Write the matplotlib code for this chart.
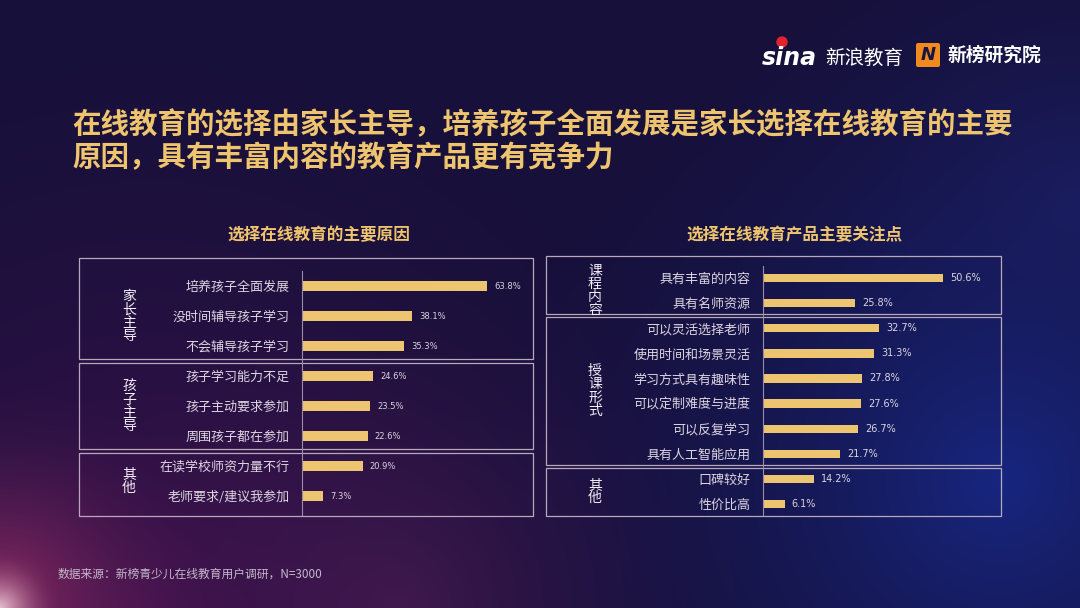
import numpy as np
import matplotlib
matplotlib.use("Agg")
import matplotlib.pyplot as plt
from matplotlib.patches import Rectangle, FancyBboxPatch, Arc
from matplotlib.transforms import blended_transform_factory

plt.rcParams['font.family'] = ['Noto Sans CJK SC', 'DejaVu Sans']

# left chart data
left_title = '选择在线教育的主要原因'
left_groups = ['家长主导', '孩子主导', '其他']
left_sizes = [3, 3, 2]
left_labels = ['培养孩子全面发展', '没时间辅导孩子学习', '不会辅导孩子学习',
               '孩子学习能力不足', '孩子主动要求参加', '周围孩子都在参加',
               '在读学校师资力量不行', '老师要求/建议我参加']
left_values = [63.8, 38.1, 35.3, 24.6, 23.5, 22.6, 20.9, 7.3]

# right chart data
right_title = '选择在线教育产品主要关注点'
right_groups = ['课程内容', '授课形式', '其他']
right_sizes = [2, 6, 2]
right_labels = ['具有丰富的内容', '具有名师资源', '可以灵活选择老师', '使用时间和场景灵活',
                '学习方式具有趣味性', '可以定制难度与进度', '可以反复学习', '具有人工智能应用',
                '口碑较好', '性价比高']
right_values = [50.6, 25.8, 32.7, 31.3, 27.8, 27.6, 26.7, 21.7, 14.2, 6.1]

headline = ['在线教育的选择由家长主导，培养孩子全面发展是家长选择在线教育的主要',
            '原因，具有丰富内容的教育产品更有竞争力']
source = '数据来源：新榜青少儿在线教育用户调研，N=3000'

GOLD = '#EEC46E'
BAR = '#EDC46F'
LINE = '#B8A8BC'
TXT = '#DCD4E0'

W, H = 1080, 608
fig = plt.figure(figsize=(W / 100, H / 100), dpi=100)

# background gradient
bg = fig.add_axes([0, 0, 1, 1])
yy, xx = np.mgrid[0:H, 0:W]
img = np.zeros((H, W, 3))
img[:] = np.array([22, 16, 58]) / 255.0
def blob(cx, cy, r, col, strength):
    d = np.sqrt((xx - cx) ** 2 + (yy - cy) ** 2) / r
    w = np.clip(1 - d, 0, 1) ** 2 * strength
    return w[..., None] * (np.array(col) / 255.0 - img)
img += blob(150, 620, 700, (70, 18, 80), 0.9)
img += blob(1000, 480, 560, (22, 42, 140), 0.85)
img += blob(1080, 200, 380, (28, 34, 110), 0.6)
img += blob(0, 600, 230, (165, 50, 105), 0.8)
img += blob(0, 608, 60, (240, 210, 220), 0.9)
img += blob(400, 605, 350, (110, 40, 100), 0.35)
img = np.clip(img, 0, 1)
bg.imshow(img, extent=[0, W, H, 0], aspect='auto')
bg.set_xlim(0, W)
bg.set_ylim(H, 0)
bg.axis('off')

# faint decorative arcs
for i in range(8):
    bg.add_patch(Arc((1250, 800), 560 + i * 18, 560 + i * 18, theta1=100, theta2=200,
                     color='#8C9CE0', lw=0.6, alpha=0.25))
    bg.add_patch(Arc((1150, -150), 420 + i * 16, 420 + i * 16, theta1=180, theta2=260,
                     color='#8C9CE0', lw=0.5, alpha=0.15))
    bg.add_patch(Arc((-120, -260), 700 + i * 22, 700 + i * 22, theta1=270, theta2=360,
                     color='#A090C8', lw=0.5, alpha=0.14))

# headline
for i, line in enumerate(headline):
    bg.text(72, 125 + i * 33, line, color=GOLD, fontsize=20.5, fontweight='bold',
            va='center', ha='left')

# logos
bg.text(762, 58, 'sina', color='white', fontsize=17, fontweight='bold', style='italic',
        family='DejaVu Sans', va='center', ha='left')
bg.add_patch(plt.Circle((782, 42), 5, color='#E0242E'))
bg.text(825, 58, '新浪教育', color='white', fontsize=14, style='italic', va='center', ha='left')
bg.add_patch(FancyBboxPatch((916, 43), 24, 24, boxstyle='round,pad=0,rounding_size=2',
                            fc='#F08A1E', ec='none'))
bg.text(928, 55, 'N', color='#1A1440', fontsize=13, fontweight='bold', style='italic',
        family='DejaVu Sans', va='center', ha='center')
bg.text(948, 55, '新榜研究院', color='white', fontsize=13.5, fontweight='bold',
        va='center', ha='left')

# source note
bg.text(58, 574, source, color='#C4B8CC', fontsize=8.5, va='center', ha='left')


def panel(px, rect, labels, values, groups, sizes, title, title_x, scale, top_pad, bot_pad,
          box_x, val_fs):
    x0, y0, x1, y1 = rect
    ax = fig.add_axes([x0 / W, 1 - y1 / H, (x1 - x0) / W, (y1 - y0) / H])
    n = len(values)
    ax.set_xlim(0, (x1 - x0) / scale)
    ax.set_ylim(n - 1 + bot_pad, -top_pad)
    ax.patch.set_alpha(0)
    pos = np.arange(n)
    ax.barh(pos, values, height=0.33, color=BAR, edgecolor='none')
    for p, v in zip(pos, values):
        ax.annotate(f'{v}%', (v, p), xytext=(5, 0), textcoords='offset points',
                    va='center', ha='left', color=TXT, fontsize=val_fs, family='DejaVu Sans')
    ax.set_yticks(pos)
    ax.set_yticklabels(labels, color=TXT, fontsize=9.4)
    ax.tick_params(axis='y', length=0, pad=9)
    ax.set_xticks([])
    for s in ax.spines.values():
        s.set_visible(False)
    ax.plot([0, 0], [-0.5, n - 1 + bot_pad - 0.1], color='#9A8CA6', lw=0.8, clip_on=False)

    tr = blended_transform_factory(fig.transFigure, ax.transData)
    start = 0
    for gi, (g, sz) in enumerate(zip(groups, sizes)):
        top = start - 0.45 - (top_pad - 0.5 if gi == 0 else 0)
        bot = start + sz - 1 + 0.43 + (bot_pad - 0.5 if gi == len(groups) - 1 else 0)
        ax.add_patch(Rectangle((box_x[0] / W, top), (box_x[1] - box_x[0]) / W, bot - top,
                               transform=tr, fill=False, ec=LINE, lw=0.9, clip_on=False))
        mid = start + (sz - 1) / 2
        ax.text(px / W, mid, '\n'.join(g), transform=tr, color='#F2EEF4', fontsize=10,
                fontweight='medium', ha='center', va='center', linespacing=0.92)
        start += sz
    bg.text(title_x, 235, title, color=GOLD, fontsize=12, fontweight='bold',
            ha='center', va='center')
    return ax


panel(129, (302, 256, 533, 518), left_labels, left_values, left_groups, left_sizes,
      left_title, 319, 2.9, 1.0, 0.73, (79, 533), 6)
panel(595, (763, 255, 1001, 518), right_labels, right_values, right_groups, right_sizes,
      right_title, 795, 3.56, 0.92, 0.56, (546, 1001), 7)

fig.savefig('out.png', dpi=100)
